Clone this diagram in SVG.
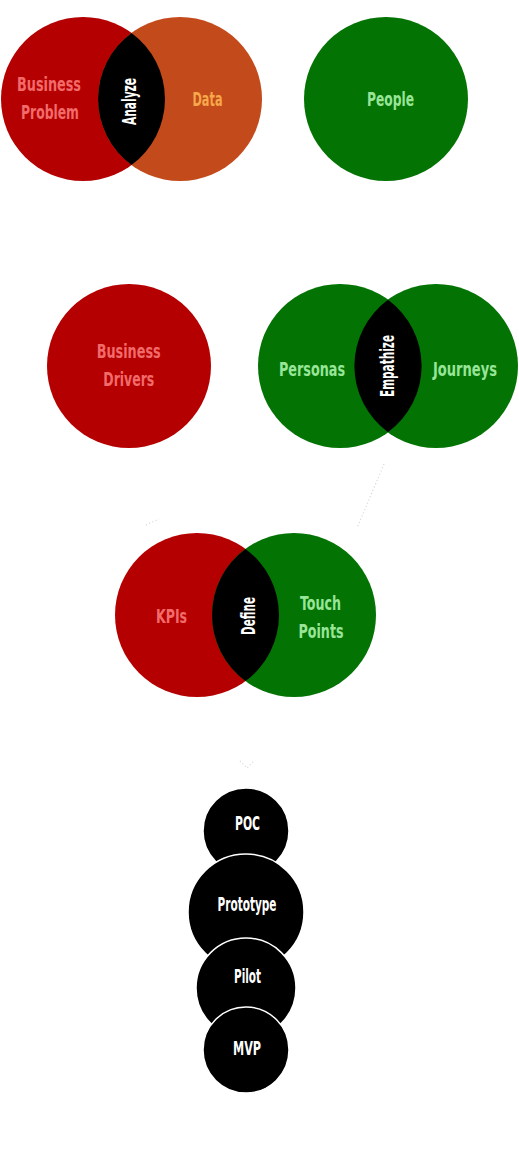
<svg xmlns="http://www.w3.org/2000/svg" width="519" height="1150" viewBox="0 0 519 1150">
<style>
text{font-family:"Liberation Sans Narrow","DejaVu Sans Condensed","Liberation Sans",sans-serif;font-weight:bold;font-size:20px;text-anchor:middle}
.red{fill:#b40000}
.orange{fill:#c34a1b}
.green{fill:#037303}
.lens{fill:#000}
.tr{fill:#f26b6b}
.to{fill:#f6a84a}
.tg{fill:#98e598}
.tw{fill:#fff}
.step{fill:#000;stroke:#fff;stroke-width:1.5}
.conn{fill:none;stroke:#d4d4d4;stroke-width:1.2;stroke-dasharray:1 2.5}
</style>
<g id="connectors">
<path class="conn" d="M384 464 L357 528"/>
<path class="conn" d="M146 525 L159 519"/>
<path class="conn" d="M240 761 L247 768 L254 761"/>
</g>
<g id="analyze">
<circle id="business-problem" class="red" cx="83" cy="99" r="82"/>
<circle id="data" class="orange" cx="180" cy="99" r="82"/>
<path class="lens" d="M131.5 32.9 A82 82 0 0 1 131.5 165.1 A82 82 0 0 1 131.5 32.9 Z"/>
<text class="tr" x="49" y="91" textLength="64" lengthAdjust="spacingAndGlyphs">Business</text>
<text class="tr" x="50" y="119" textLength="58" lengthAdjust="spacingAndGlyphs">Problem</text>
<text class="to" x="207.5" y="106" textLength="30" lengthAdjust="spacingAndGlyphs">Data</text>
<text class="tw" transform="translate(135.5 101.5) rotate(-90)" textLength="47" lengthAdjust="spacingAndGlyphs">Analyze</text>
</g>
<g id="people">
<circle class="green" cx="386" cy="99" r="82"/>
<text class="tg" x="390.5" y="106" textLength="47" lengthAdjust="spacingAndGlyphs">People</text>
</g>
<g id="business-drivers">
<circle class="red" cx="129" cy="366" r="82"/>
<text class="tr" x="128.7" y="358" textLength="64" lengthAdjust="spacingAndGlyphs">Business</text>
<text class="tr" x="128.8" y="386" textLength="51" lengthAdjust="spacingAndGlyphs">Drivers</text>
</g>
<g id="empathize">
<circle id="personas" class="green" cx="340" cy="366" r="82"/>
<circle id="journeys" class="green" cx="436" cy="366" r="82"/>
<path class="lens" d="M388 299.8 A82 82 0 0 1 388 432.2 A82 82 0 0 1 388 299.8 Z"/>
<text class="tg" x="312" y="376" textLength="66" lengthAdjust="spacingAndGlyphs">Personas</text>
<text class="tg" x="465" y="376" textLength="64" lengthAdjust="spacingAndGlyphs">Journeys</text>
<text class="tw" transform="translate(394 366) rotate(-90)" textLength="62" lengthAdjust="spacingAndGlyphs">Empathize</text>
</g>
<g id="define">
<circle id="kpis" class="red" cx="197" cy="615" r="82"/>
<circle id="touch-points" class="green" cx="294" cy="615" r="82"/>
<path class="lens" d="M245.5 548.9 A82 82 0 0 1 245.5 681.1 A82 82 0 0 1 245.5 548.9 Z"/>
<text class="tr" x="171.5" y="623" textLength="31" lengthAdjust="spacingAndGlyphs">KPIs</text>
<text class="tg" x="320.5" y="610" textLength="41" lengthAdjust="spacingAndGlyphs">Touch</text>
<text class="tg" x="321" y="638" textLength="45" lengthAdjust="spacingAndGlyphs">Points</text>
<text class="tw" transform="translate(255 616) rotate(-90)" textLength="38" lengthAdjust="spacingAndGlyphs">Define</text>
</g>
<g id="poc">
<circle class="step" cx="246" cy="831" r="43"/>
<text class="tw" x="247.5" y="830" textLength="25" lengthAdjust="spacingAndGlyphs">POC</text>
</g>
<g id="prototype">
<circle class="step" cx="246" cy="912" r="58"/>
<text class="tw" x="247" y="911" textLength="59" lengthAdjust="spacingAndGlyphs">Prototype</text>
</g>
<g id="pilot">
<circle class="step" cx="246" cy="988" r="50"/>
<text class="tw" x="247.5" y="983" textLength="27" lengthAdjust="spacingAndGlyphs">Pilot</text>
</g>
<g id="mvp">
<circle class="step" cx="246" cy="1050" r="43"/>
<text class="tw" x="247" y="1055" textLength="28" lengthAdjust="spacingAndGlyphs">MVP</text>
</g>
</svg>
